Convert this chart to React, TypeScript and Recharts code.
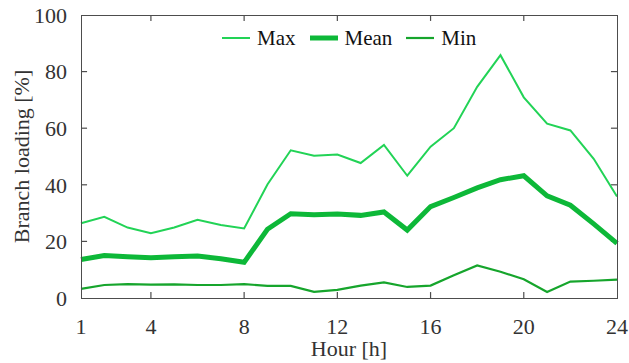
import React from 'react';
import { LineChart, Line, XAxis, YAxis, ReferenceLine } from 'recharts';

const hours = [1, 2, 3, 4, 5, 6, 7, 8, 9, 10, 11, 12, 13, 14, 15, 16, 17, 18, 19, 20, 21, 22, 23, 24];
const maxLoad = [26.4, 28.7, 24.9, 22.9, 24.9, 27.6, 25.8, 24.6, 40.1, 52.2, 50.3, 50.7, 47.7, 54.1, 43.2, 53.5, 60.0, 74.6, 85.8, 70.9, 61.6, 59.2, 49.2, 35.9];
const meanLoad = [13.6, 15.0, 14.6, 14.2, 14.6, 14.8, 13.9, 12.6, 24.3, 29.8, 29.4, 29.7, 29.2, 30.4, 24.0, 32.3, 35.5, 38.9, 41.8, 43.2, 36.1, 32.8, 26.2, 19.3];
const minLoad = [3.2, 4.6, 4.9, 4.7, 4.8, 4.6, 4.6, 4.9, 4.3, 4.3, 2.2, 2.9, 4.4, 5.5, 3.9, 4.4, 8.0, 11.5, 9.3, 6.6, 2.1, 5.8, 6.1, 6.5];
const xTicks = [1, 4, 8, 12, 16, 20, 24];
const yTicks = [0, 20, 40, 60, 80, 100];

const data = hours.map((h, i) => ({ hour: h, max: maxLoad[i], mean: meanLoad[i], min: minLoad[i] }));

const FONT = '"Liberation Serif", "Times New Roman", serif';
const AXIS = '#4d4d4d';
const TEXT = '#333333';
const X0 = 1;
const X1 = 24;
const Y0 = 0;
const Y1 = 100;
// inward tick length in data units (about 6px)
const TX = 0.26;
const TY = 2.1;

const series = [
  { key: 'max', name: 'Max', color: '#22d356', width: 2 },
  { key: 'mean', name: 'Mean', color: '#0db838', width: 5 },
  { key: 'min', name: 'Min', color: '#16a52c', width: 2.2 },
];

function LegendBox() {
  return (
    <div
      style={{
        position: 'absolute',
        top: 26,
        left: 222,
        display: 'flex',
        alignItems: 'center',
        fontFamily: FONT,
        fontSize: 21,
        color: '#111',
        lineHeight: '24px',
      }}
    >
      {series.map((s) => (
        <div key={s.key} style={{ display: 'flex', alignItems: 'center', marginRight: 14 }}>
          <svg width={28} height={10} style={{ marginRight: 7 }}>
            <line x1={0} x2={28} y1={5} y2={5} stroke={s.color} strokeWidth={s.width} />
          </svg>
          <span>{s.name}</span>
        </div>
      ))}
    </div>
  );
}

export default function App() {
  const innerX = xTicks.filter((t) => t !== X0 && t !== X1);
  const innerY = yTicks.filter((t) => t !== Y0 && t !== Y1);
  return (
    <div style={{ position: 'absolute', left: 0, top: 0, width: 629, height: 363, background: '#fff' }}>
      <LineChart width={629} height={363} data={data} margin={{ top: 15, right: 12, left: 0, bottom: 0 }}>
        <XAxis
          dataKey="hour"
          type="number"
          domain={[X0, X1]}
          ticks={xTicks}
          axisLine={false}
          tickLine={false}
          tickMargin={14}
          height={65}
          tick={{ fontFamily: FONT, fontSize: 22, fill: TEXT }}
          label={{ value: 'Hour [h]', position: 'insideBottom', offset: 7, fontFamily: FONT, fontSize: 22, fill: TEXT }}
        />
        <YAxis
          domain={[Y0, Y1]}
          ticks={yTicks}
          axisLine={false}
          tickLine={false}
          width={81}
          tickMargin={8}
          tick={{ fontFamily: FONT, fontSize: 22, fill: TEXT }}
          label={{ value: 'Branch loading [%]', angle: -90, position: 'center', dx: -19, fontFamily: FONT, fontSize: 22, fill: TEXT }}
        />
        {innerX.map((t) => (
          <ReferenceLine key={`xb${t}`} segment={[{ x: t, y: Y0 }, { x: t, y: Y0 + TY }]} stroke={AXIS} strokeWidth={1.2} />
        ))}
        {innerX.map((t) => (
          <ReferenceLine key={`xt${t}`} segment={[{ x: t, y: Y1 }, { x: t, y: Y1 - TY }]} stroke={AXIS} strokeWidth={1.2} />
        ))}
        {innerY.map((t) => (
          <ReferenceLine key={`yl${t}`} segment={[{ x: X0, y: t }, { x: X0 + TX, y: t }]} stroke={AXIS} strokeWidth={1.2} />
        ))}
        {innerY.map((t) => (
          <ReferenceLine key={`yr${t}`} segment={[{ x: X1, y: t }, { x: X1 - TX, y: t }]} stroke={AXIS} strokeWidth={1.2} />
        ))}
        {series.map((s) => (
          <Line
            key={s.key}
            type="linear"
            dataKey={s.key}
            name={s.name}
            stroke={s.color}
            strokeWidth={s.width}
            dot={false}
            isAnimationActive={false}
          />
        ))}
      </LineChart>
      {/* plot frame */}
      <div
        style={{
          position: 'absolute',
          left: 81,
          top: 15,
          width: 535,
          height: 282,
          border: `1px solid ${AXIS}`,
          pointerEvents: 'none',
        }}
      />
      <LegendBox />
    </div>
  );
}
